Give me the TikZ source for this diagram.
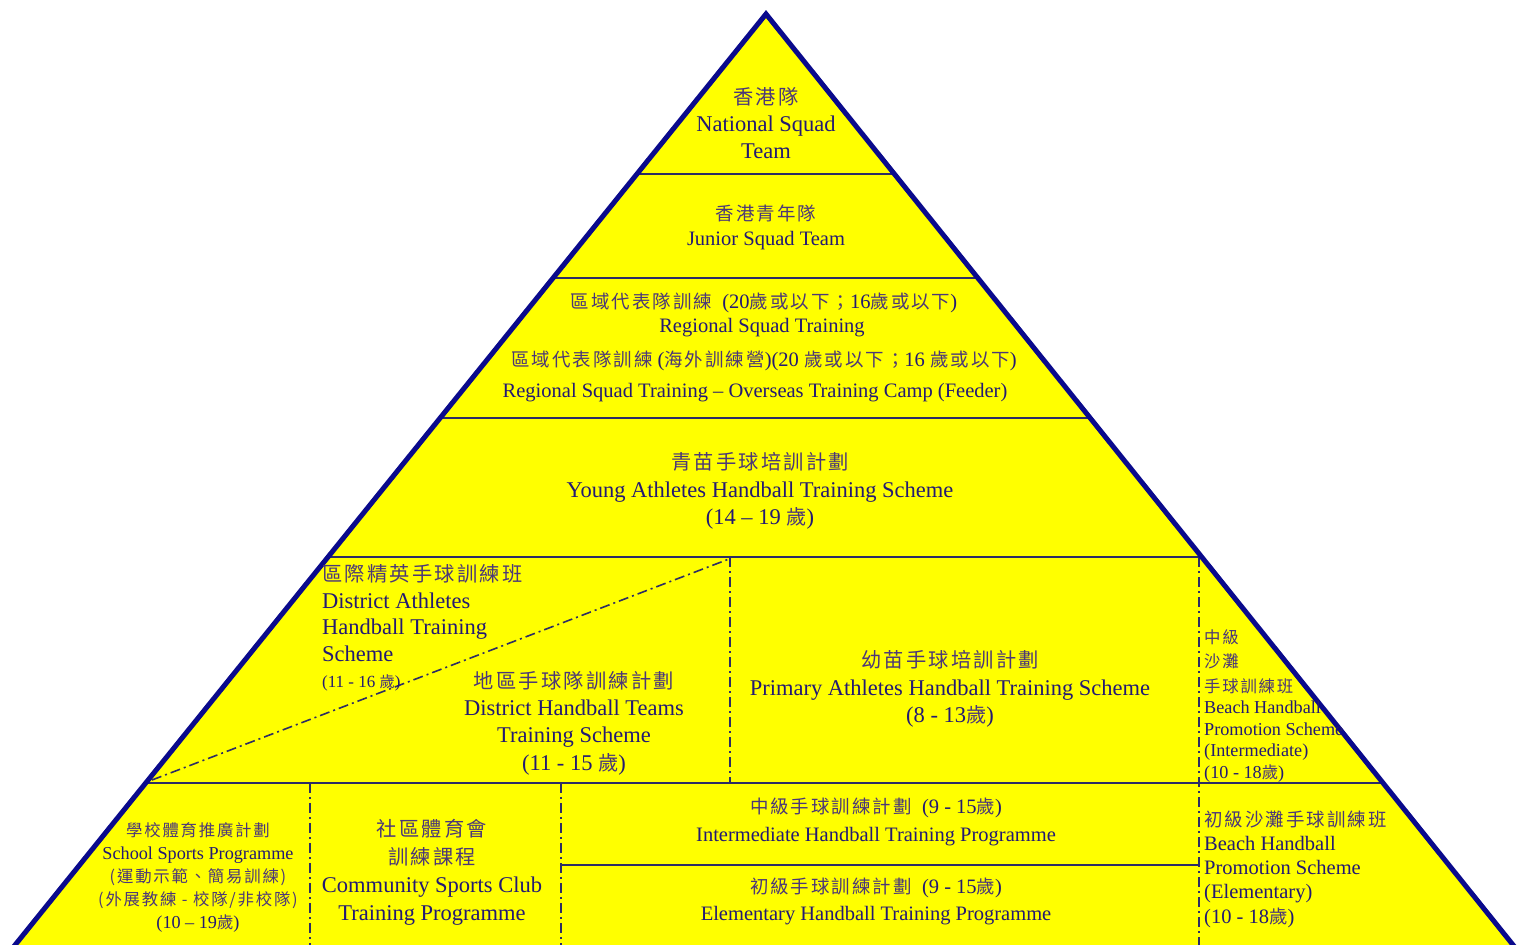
\documentclass[tikz,border=0pt]{standalone}
\usepackage{fontspec}
\setmainfont{Liberation Serif}
\newfontfamily\cjkfont[Scale=0.9,LetterSpace=11]{Noto Sans CJK TC}
\usetikzlibrary{calc}
\definecolor{pyrfill}{RGB}{255,255,0}
\definecolor{edgeblue}{RGB}{10,10,140}
\definecolor{sepcol}{RGB}{45,45,100}
\definecolor{entext}{RGB}{35,25,115}
\definecolor{zhtext}{RGB}{75,55,120}
\newcommand\zh[1]{{\cjkfont\color{zhtext}#1}}
\tikzset{
 outline/.style={draw=edgeblue, line width=5pt, line join=miter},
 sepline/.style={draw=sepcol, line width=1.8pt},
 dashline/.style={draw=sepcol, line width=1.6pt, dash pattern=on 10pt off 4pt on 2pt off 4pt},
 big/.style={text=entext, font=\fontsize{22.5}{27}\selectfont, align=center, inner sep=0pt},
 mid/.style={text=entext, font=\fontsize{20.5}{25}\selectfont, align=center, inner sep=0pt},
 small/.style={text=entext, font=\fontsize{18.2}{23}\selectfont, align=center, inner sep=0pt},
}
\begin{document}
\begin{tikzpicture}[x=1pt,y=-1pt]
\useasboundingbox (0,0) rectangle (1521,945);
\clip (0,0) rectangle (1521,945);
\coordinate (A) at (766,14);
\coordinate (BL) at (-29.3,1000);
\coordinate (BR) at (1557.2,1000);
\fill[pyrfill] (A) -- (BL) -- (BR) -- cycle;
\foreach \yy in {174,278,418,557,783} {
  \coordinate (L\yy) at ($(A)!{(\yy-14)/986}!(BL)$);
  \coordinate (R\yy) at ($(A)!{(\yy-14)/986}!(BR)$);
  \draw[sepline] (L\yy) -- (R\yy);
}
\coordinate (v1t) at (730,557);
\coordinate (v1b) at (730,783);
\coordinate (v2t) at (1199,557);
\coordinate (v2b) at (1199,950);
\coordinate (v3t) at (310,783);
\coordinate (v3b) at (310,950);
\coordinate (v4t) at (561,783);
\coordinate (v4b) at (561,950);
\coordinate (h6l) at (561,865);
\coordinate (h6r) at (1199,865);
\coordinate (dg1) at (152,780);
\coordinate (dg2) at (729,559);
\draw[sepline] (h6l) -- (h6r);
\draw[dashline] (v1t) -- (v1b);
\draw[dashline] (v2t) -- (v2b);
\draw[dashline] (v3t) -- (v3b);
\draw[dashline] (v4t) -- (v4b);
\draw[dashline] (dg1) -- (dg2);
\draw[outline] (BL) -- (A) -- (BR);

% texts
\node[big] (t1) at (766,123) {\zh{香港隊}\\National Squad\\Team};
\node[mid] (t2) at (766,227) {\zh{香港青年隊}\\Junior Squad Team};
\node[mid] (t3a) at (764,303) {\zh{區域代表隊訓練}\ \ (20\zh{歲或以下；}16\zh{歲或以下})};
\node[mid] (t3b) at (762,328) {Regional Squad Training};
\node[mid] (t3c) at (764,361) {\zh{區域代表隊訓練}\ (\zh{海外訓練營})(20 \zh{歲或以下；}16 \zh{歲或以下})};
\node[mid] (t3d) at (755,393) {Regional Squad Training -- Overseas Training Camp (Feeder)};
\node[big, font=\fontsize{22.5}{27.5}\selectfont] (t4) at (760,491) {\zh{青苗手球培訓計劃}\\Young Athletes Handball Training Scheme\\(14 -- 19 \zh{歲})};
\node[big, align=left, anchor=west, font=\fontsize{22.5}{26.5}\selectfont] (t5) at (322,628) {\zh{區際精英手球訓練班}\\District Athletes\\Handball Training\\Scheme\\{\fontsize{17}{22}\selectfont (11 - 16 \zh{歲})}};
\node[big, font=\fontsize{22.5}{27.3}\selectfont] (t6) at (574,723) {\zh{地區手球隊訓練計劃}\\District Handball Teams\\Training Scheme\\(11 - 15 \zh{歲})};
\node[big, font=\fontsize{22.5}{27.5}\selectfont] (t7) at (950,689) {\zh{幼苗手球培訓計劃}\\Primary Athletes Handball Training Scheme\\(8 - 13\zh{歲})};
\node[small, align=left, anchor=west, font=\fontsize{18.2}{21.5}\selectfont] (t8) at (1204,706) {\zh{中級}\\[3pt]\zh{沙灘}\\[3pt]\zh{手球訓練班}\\Beach Handball\\Promotion Scheme\\(Intermediate)\\(10 - 18\zh{歲})};
\node[small] (t9) at (198,877) {\zh{學校體育推廣計劃}\\School Sports Programme\\\zh{(運動示範、簡易訓練)}\\\zh{(外展教練 - 校隊/非校隊)}\\(10 -- 19\zh{歲})};
\node[big, font=\fontsize{22.5}{28}\selectfont] (t10) at (432,872) {\zh{社區體育會}\\\zh{訓練課程}\\Community Sports Club\\Training Programme};
\node[mid, font=\fontsize{20.5}{28}\selectfont] (t11) at (876,822) {\zh{中級手球訓練計劃}\ \ (9 - 15\zh{歲})\\Intermediate Handball Training Programme};
\node[mid, font=\fontsize{20.5}{27}\selectfont] (t12) at (876,901) {\zh{初級手球訓練計劃}\ \ (9 - 15\zh{歲})\\Elementary Handball Training Programme};
\node[mid, align=left, anchor=west, font=\fontsize{20.5}{24.2}\selectfont] (t13) at (1204,869) {\zh{初級沙灘手球訓練班}\\Beach Handball\\Promotion Scheme\\(Elementary)\\(10 - 18\zh{歲})};
\end{tikzpicture}
\end{document}
